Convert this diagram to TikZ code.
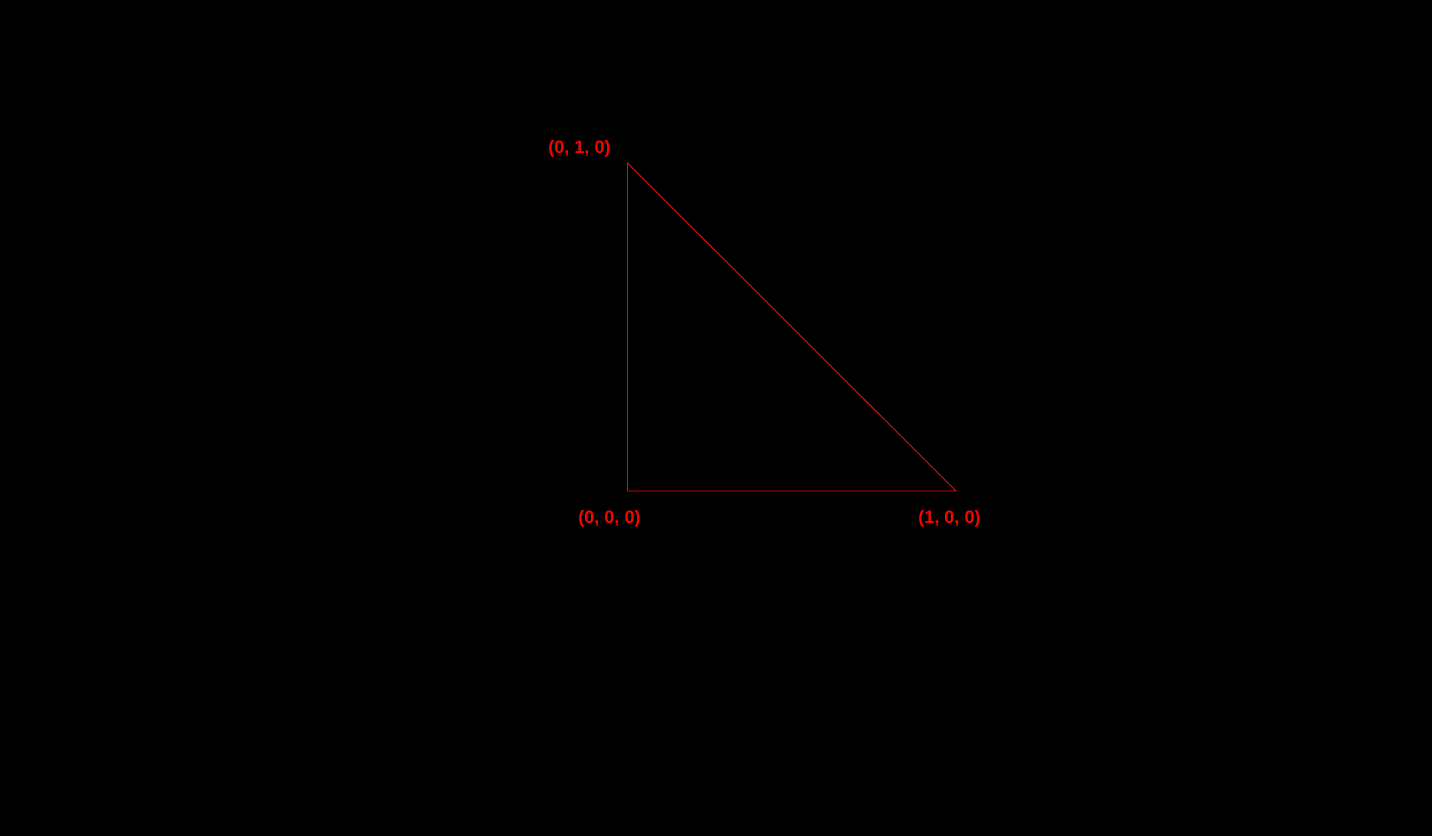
\documentclass[tikz,border=0pt]{standalone}
\usepackage{fontspec}
\setmainfont{Liberation Sans}
\usepackage{xcolor}

\begin{document}
\begin{tikzpicture}[x=1pt, y=-1pt, line width=0.9pt]
\tikzset{
  vlabel/.style={text=red, font=\fontsize{18}{20}\selectfont\bfseries, inner sep=0pt},
  edge/.style={draw=red}
}
% Background
\fill[black] (0,0) rectangle (1432,836);
\useasboundingbox (0,0) rectangle (1432,836);

\coordinate (p010) at (627.5,163);
\coordinate (p000) at (627.5,491);
\coordinate (p100) at (956,491);

% Triangle
\draw[edge] (p000) -- (p100) -- (p010) -- cycle;

% Vertex labels
\node[vlabel] (l010) at (579.5,148.5) {(0, 1, 0)};
\node[vlabel] (l000) at (609.5,518.5) {(0, 0, 0)};
\node[vlabel] (l100) at (949.5,518.5) {(1, 0, 0)};
\end{tikzpicture}
\end{document}
